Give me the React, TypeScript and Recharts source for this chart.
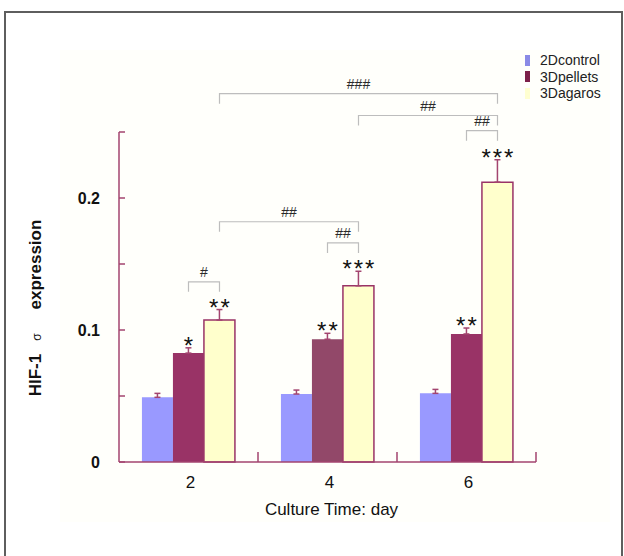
import React from 'react'
import { Bar, BarChart, Cell, ErrorBar, LabelList, ReferenceLine, XAxis, YAxis } from 'recharts'

const days = ['2', '4', '6']
const control2D = [0.049, 0.0515, 0.052]
const pellets3D = [0.0825, 0.093, 0.097]
const agaros3D = [0.1075, 0.1335, 0.212]
const control2DErr = [0.003, 0.003, 0.003]
const pellets3DErr = [0.004, 0.0045, 0.0045]
const agaros3DErr = [0.008, 0.011, 0.017]
const pelletsStars = ['*', '**', '**']
const agarosStars = ['**', '***', '***']
const yTicks = [0, 0.05, 0.1, 0.15, 0.2, 0.25]
const yLabels = [0, 0.1, 0.2]

// significance brackets (# marks): from bar -> to bar, at a height in data units
const bracketText = ['#', '##', '##', '##', '##', '###']
const bracketFromDay = ['2', '4', '2', '6', '4', '2']
const bracketFromSeries = [1, 1, 2, 1, 2, 2]
const bracketToDay = ['2', '4', '4', '6', '6', '6']
const bracketToSeries = [2, 2, 2, 2, 2, 2]
const bracketLevel = [0.1365, 0.166, 0.182, 0.251, 0.2625, 0.279]

const data = days.map((day, i) => ({
  day,
  slot: i + 0.5,
  control: control2D[i],
  pellets: pellets3D[i],
  agaros: agaros3D[i],
  controlErr: [0, control2DErr[i]],
  pelletsErr: [0, pellets3DErr[i]],
  agarosErr: [0, agaros3DErr[i]],
}))

const AXIS = '#a3456f'
const FONT = 'Liberation Sans, Arial, sans-serif'
const GAP = 23 / 139
const BAR = (1 - 2 * GAP) / 3

const barCenter = (day: string, series: number) =>
  days.indexOf(day) + GAP + (series + 0.5) * BAR

const starLabel = (stars: string[], errs: number[]) => (props: any) => {
  const { x, y, width, height, value, index } = props
  const px = Number(height) / Number(value)
  const top = Number(y) - errs[index] * px
  return (
    <text
      x={Number(x) + Number(width) / 2 + 1}
      y={top + 6}
      textAnchor="middle"
      fontFamily={FONT}
      fontSize={24}
      letterSpacing={2}
      fill="#111"
    >
      {stars[index]}
    </text>
  )
}

function BracketShape(props: any) {
  const { x1, y1, x2, text } = props
  const d = `M${x1},${y1 + 10} L${x1},${y1} L${x2},${y1} L${x2},${y1 + 10}`
  return (
    <g>
      <path d={d} stroke="#bdbdbd" strokeWidth={1.2} fill="none" />
      <text
        x={(x1 + x2) / 2}
        y={y1 - 5}
        textAnchor="middle"
        fontFamily={FONT}
        fontSize={14}
        fill="#2a2a2a"
      >
        {text}
      </text>
    </g>
  )
}

function YTick(props: any) {
  const { x, y, payload } = props
  if (!yLabels.includes(payload.value)) return null
  return (
    <text x={x} y={y + 6} textAnchor="end" fontFamily={FONT} fontSize={16} fontWeight="bold" fill="#111">
      {payload.value}
    </text>
  )
}

function XTick(props: any) {
  const { x, y, payload } = props
  const edge = x + (payload.offset ?? 0)
  return (
    <g>
      <line x1={edge} y1={y} x2={edge} y2={y - 10} stroke={AXIS} strokeWidth={1.5} />
      <text x={x + 2} y={y + 26} textAnchor="middle" fontFamily={FONT} fontSize={17} fill="#111">
        {payload.value}
      </text>
    </g>
  )
}

function YTitle() {
  return (
    <text
      transform="translate(41, 308) rotate(-90)"
      textAnchor="middle"
      fontFamily={FONT}
      fontSize={17}
      fontWeight="bold"
      fill="#111"
    >
      HIF-1
      <tspan fontSize={12} fontWeight="normal" dx={13}>σ</tspan>
      <tspan dx={24}>expression</tspan>
    </text>
  )
}

const legendItems = [
  { name: '2Dcontrol', color: '#8a8ae6' },
  { name: '3Dpellets', color: '#7c2049' },
  { name: '3Dagaros', color: '#ffffd0' },
]

export default function App(): React.ReactElement {
  return (
    <div style={{ position: 'fixed', left: 0, top: 0, width: 624, height: 556, background: '#fff', overflow: 'hidden' }}>
      <div style={{ position: 'absolute', left: 4, top: 11, width: 615, height: 600, border: '2px solid #5e5e5e' }} />
      <div style={{ position: 'absolute', left: 60, top: 50, width: 550, height: 472, background: '#fffffb' }} />
      <div style={{ position: 'absolute', left: 0, top: 0 }}>
        <BarChart
          width={624}
          height={556}
          data={data}
          margin={{ top: 132, right: 88, bottom: 64, left: 59 }}
          barCategoryGap="16.5%"
          barGap={0}
        >
          <XAxis
            dataKey="day"
            stroke={AXIS}
            axisLine={{ stroke: AXIS, strokeWidth: 1.5 }}
            tickLine={false}
            tickSize={0}
            tickMargin={0}
            tick={XTick}
            height={30}
            label={{ value: 'Culture Time: day', position: 'bottom', offset: 11, fontFamily: FONT, fontSize: 17, fill: '#111', dx: 4 }}
          />
          <XAxis xAxisId="n" dataKey="slot" type="number" domain={[0, 3]} allowDataOverflow hide />
          <YAxis
            width={60}
            domain={[0, 0.25]}
            ticks={yTicks}
            axisLine={{ stroke: AXIS, strokeWidth: 1.5 }}
            tickLine={{ stroke: AXIS, strokeWidth: 1.5 }}
            tickSize={-6}
            tickMargin={25}
            tick={YTick}
            label={{ content: YTitle }}
          />
          <Bar dataKey="control" fill="#9999ff" isAnimationActive={false}>
            <ErrorBar dataKey="controlErr" width={3} stroke={AXIS} strokeWidth={1.5} />
          </Bar>
          <Bar dataKey="pellets" fill="#993366" isAnimationActive={false}>
            {days.map((d, i) => (
              <Cell key={`pel-${d}`} fill={i === 1 ? '#924869' : '#993366'} />
            ))}
            <ErrorBar dataKey="pelletsErr" width={3} stroke={AXIS} strokeWidth={1.5} />
            <LabelList dataKey="pellets" content={starLabel(pelletsStars, pellets3DErr)} />
          </Bar>
          <Bar dataKey="agaros" fill="#ffffcc" stroke="#993366" strokeWidth={1.5} isAnimationActive={false}>
            <ErrorBar dataKey="agarosErr" width={3} stroke={AXIS} strokeWidth={1.5} />
            <LabelList dataKey="agaros" content={starLabel(agarosStars, agaros3DErr)} />
          </Bar>
          {bracketText.map((t, i) => (
            <ReferenceLine
              key={`br-${i}`}
              xAxisId="n"
              ifOverflow="visible"
              segment={[
                { x: barCenter(bracketFromDay[i], bracketFromSeries[i]), y: bracketLevel[i] },
                { x: barCenter(bracketToDay[i], bracketToSeries[i]), y: bracketLevel[i] },
              ]}
              shape={(p: any) => <BracketShape {...p} text={t} />}
            />
          ))}
        </BarChart>
      </div>
      <div style={{ position: 'absolute', left: 525, top: 52, fontFamily: FONT, fontSize: 14, color: '#222', lineHeight: '16.5px' }}>
        {legendItems.map((it) => (
          <div key={it.name} style={{ display: 'flex', alignItems: 'center' }}>
            <span style={{ display: 'inline-block', width: 5, height: 11, background: it.color, marginRight: 10 }} />
            {it.name}
          </div>
        ))}
      </div>
    </div>
  )
}
